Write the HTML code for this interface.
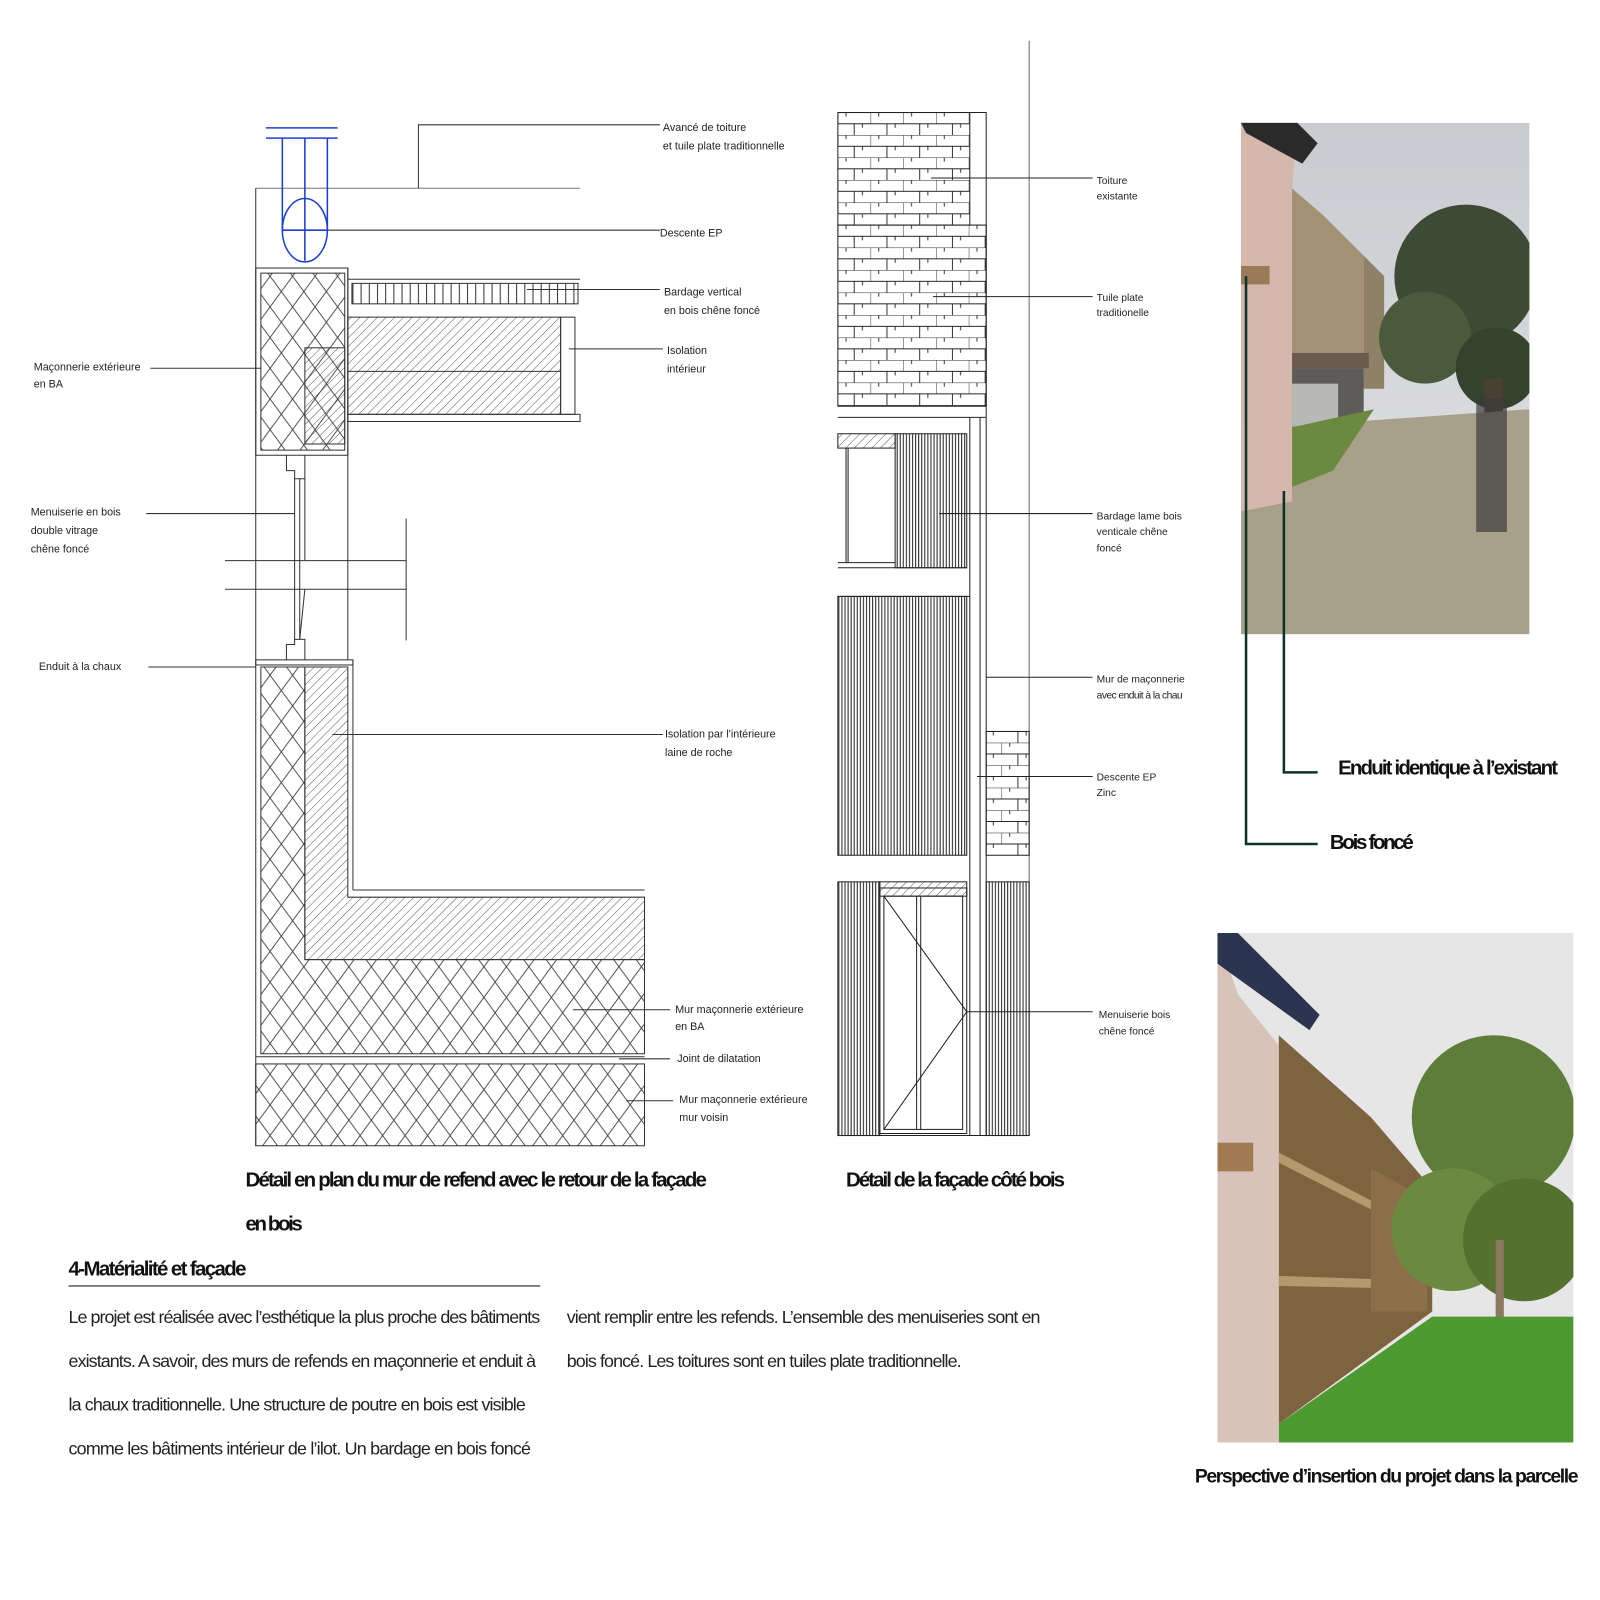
<!DOCTYPE html>
<html><head><meta charset="utf-8"><style>
html,body{margin:0;padding:0;background:#fff;}
svg{display:block}
.s{font-family:"Liberation Sans Narrow","Liberation Sans",sans-serif;font-size:10.5px;fill:#222}
.b{font-family:"Liberation Sans Narrow","Liberation Sans",sans-serif;font-weight:bold;fill:#111}
.p{font-family:"Liberation Sans Narrow","Liberation Sans",sans-serif;font-size:17.5px;fill:#222}
</style></head><body>
<svg width="1600" height="1600" viewBox="0 0 1564 1564" xmlns="http://www.w3.org/2000/svg">
<defs>
<pattern id="cross" width="22" height="30" patternUnits="userSpaceOnUse"><path d="M0 0L22 30M22 0L0 30" stroke="#333" stroke-width="0.8"/></pattern>
<pattern id="diag" width="6" height="6" patternUnits="userSpaceOnUse" patternTransform="rotate(45)"><line x1="0" y1="0" x2="0" y2="6" stroke="#333" stroke-width="0.8"/></pattern>
<pattern id="vert" width="3" height="10" patternUnits="userSpaceOnUse"><line x1="1" y1="0" x2="1" y2="10" stroke="#222" stroke-width="1"/></pattern>
<pattern id="vert2" width="8" height="10" patternUnits="userSpaceOnUse"><line x1="1" y1="0" x2="1" y2="10" stroke="#333" stroke-width="1"/></pattern>
<pattern id="tile" x="819" y="110" width="32" height="22" patternUnits="userSpaceOnUse"><path d="M0 0H32M0 11H32M0 0V11M16 11V22M8 0V4M24 11V15" stroke="#222" stroke-width="0.9" fill="none"/></pattern>
<linearGradient id="sky1" x1="0" y1="0" x2="0" y2="1"><stop offset="0" stop-color="#c9cbd0"/><stop offset="1" stop-color="#e4e4e6"/></linearGradient>
</defs>
<g stroke="#333" stroke-width="1" fill="none">
<line x1="250" y1="184" x2="567" y2="184" stroke="#777"/>
<polyline points="409,184 409,122 645,122"/>
<line x1="320" y1="225" x2="645" y2="225"/>
<line x1="250" y1="184" x2="250" y2="1120"/>
<line x1="340" y1="262" x2="340" y2="645"/>
<rect x="250" y="262" width="90" height="183"/>
<rect x="255" y="267" width="82" height="173" fill="url(#cross)"/>
<rect x="298" y="340" width="39" height="94" fill="url(#diag)"/>
<rect x="340" y="310" width="208" height="95" fill="url(#diag)"/>
<line x1="340" y1="363" x2="548" y2="363"/>
<rect x="548" y="310" width="14" height="95"/>
<rect x="340" y="405" width="227" height="7"/>
<rect x="344" y="277" width="221" height="20" fill="url(#vert2)"/>
<line x1="340" y1="273" x2="567" y2="273"/>
<polyline points="280,445 280,460 288,460 288,468 298,468 298,458 298,445"/>
<line x1="288" y1="468" x2="288" y2="625"/><line x1="293" y1="468" x2="293" y2="625"/><line x1="298" y1="468" x2="298" y2="548"/>
<polyline points="280,645 280,630 288,630 288,625 298,625 298,645"/>
<line x1="298" y1="576" x2="293" y2="625"/>
<line x1="220" y1="548" x2="397" y2="548"/><line x1="220" y1="576" x2="397" y2="576"/>
<line x1="397" y1="507" x2="397" y2="626"/>
<rect x="250" y="645" width="95" height="5"/>
<line x1="345" y1="645" x2="345" y2="870"/><line x1="345" y1="870" x2="630" y2="870"/>
<path d="M255 652H298V938H630V1030H255Z" fill="url(#cross)"/>
<path d="M298 652H340V877H630V938H298Z" fill="url(#diag)"/>
<line x1="250" y1="1033" x2="630" y2="1033"/>
<rect x="250" y="1040" width="380" height="80" fill="url(#cross)"/>
<line x1="147" y1="360" x2="255" y2="360"/>
<line x1="143" y1="502" x2="288" y2="502"/>
<line x1="145" y1="652" x2="250" y2="652"/>
<line x1="515" y1="283" x2="645" y2="283"/>
<line x1="556" y1="341" x2="648" y2="341"/>
<line x1="325" y1="718" x2="648" y2="718"/>
<line x1="560" y1="987" x2="655" y2="987"/>
<line x1="605" y1="1035" x2="655" y2="1035"/>
<line x1="612" y1="1076" x2="658" y2="1076"/>
</g>
<g stroke="#1a3fd0" stroke-width="1.5" fill="none">
<line x1="260" y1="125" x2="330" y2="125"/><line x1="260" y1="135" x2="330" y2="135"/>
<line x1="276" y1="135" x2="276" y2="225"/><line x1="298" y1="135" x2="298" y2="255"/><line x1="320" y1="135" x2="320" y2="225"/>
<ellipse cx="298" cy="225" rx="22" ry="31"/><line x1="276" y1="225" x2="320" y2="225"/>
</g>
<g stroke="#222" stroke-width="1" fill="none">
<line x1="1006" y1="40" x2="1006" y2="1110" stroke="#666"/>
<rect x="819" y="110" width="129" height="110" fill="url(#tile)"/>
<polyline points="819,110 964,110 964,408"/>
<rect x="819" y="220" width="145" height="177" fill="url(#tile)"/>
<line x1="819" y1="397" x2="964" y2="397"/>
<line x1="819" y1="408" x2="964" y2="408"/>
<line x1="948" y1="408" x2="948" y2="1110"/><line x1="958" y1="408" x2="958" y2="1110"/><line x1="964" y1="408" x2="964" y2="1110"/>
<rect x="819" y="424" width="56" height="14" fill="url(#diag)"/>
<rect x="875" y="424" width="70" height="131" fill="url(#vert)"/>
<line x1="827" y1="438" x2="827" y2="550"/><line x1="829" y1="438" x2="829" y2="550"/>
<line x1="819" y1="550" x2="875" y2="550"/><line x1="819" y1="555" x2="945" y2="555"/>
<line x1="819" y1="583" x2="948" y2="583"/>
<rect x="819" y="583" width="126" height="253" fill="url(#vert)"/>
<rect x="964" y="715" width="42" height="121" fill="url(#tile)"/>
<rect x="819" y="862" width="41" height="248" fill="url(#vert)"/>
<rect x="860" y="862" width="85" height="14" fill="url(#diag)"/>
<rect x="860" y="868" width="85" height="240"/>
<rect x="864" y="876" width="77" height="228"/>
<line x1="896" y1="876" x2="896" y2="1104"/><line x1="900" y1="876" x2="900" y2="1104"/>
<polyline points="864,876 945,989 864,1104"/>
<rect x="964" y="862" width="42" height="248" fill="url(#vert)"/>
<line x1="819" y1="1110" x2="1006" y2="1110"/>
<line x1="910" y1="174" x2="1068" y2="174"/>
<line x1="912" y1="290" x2="1068" y2="290"/>
<line x1="918" y1="502" x2="1068" y2="502"/>
<line x1="964" y1="662" x2="1068" y2="662"/>
<line x1="955" y1="759" x2="1068" y2="759"/>
<line x1="945" y1="989" x2="1068" y2="989"/>
</g>
<g class="s">
<text x="648" y="128">Avancé de toiture</text><text x="648" y="146">et tuile plate traditionnelle</text>
<text x="645" y="231">Descente EP</text>
<text x="649" y="289">Bardage vertical</text><text x="649" y="307">en bois chêne foncé</text>
<text x="652" y="346">Isolation</text><text x="652" y="364">intérieur</text>
<text x="33" y="362">Maçonnerie extérieure</text><text x="33" y="379">en BA</text>
<text x="30" y="504">Menuiserie en bois</text><text x="30" y="522">double vitrage</text><text x="30" y="540">chêne foncé</text>
<text x="38" y="655">Enduit à la chaux</text>
<text x="650" y="721">Isolation par l'intérieure</text><text x="650" y="739">laine de roche</text>
<text x="660" y="990">Mur maçonnerie extérieure</text><text x="660" y="1007">en BA</text>
<text x="662" y="1038">Joint de dilatation</text>
<text x="664" y="1078">Mur maçonnerie extérieure</text><text x="664" y="1096">mur voisin</text>
<text x="1072" y="180" font-size="10">Toiture</text><text x="1072" y="195" font-size="10">existante</text>
<text x="1072" y="294" font-size="10">Tuile plate</text><text x="1072" y="309" font-size="10">traditionelle</text>
<text x="1072" y="508" font-size="10">Bardage lame bois</text><text x="1072" y="523" font-size="10">venticale chêne</text><text x="1072" y="539" font-size="10">foncé</text>
<text x="1072" y="667" font-size="10">Mur de maçonnerie</text><text x="1072" y="683" font-size="10" textLength="84">avec enduit à la chau</text>
<text x="1072" y="763" font-size="10">Descente EP</text><text x="1072" y="778" font-size="10">Zinc</text>
<text x="1074" y="995" font-size="10">Menuiserie bois</text><text x="1074" y="1011" font-size="10">chêne foncé</text>
</g>
<g class="b" font-size="20">
<text x="240" y="1160" textLength="451">Détail en plan du mur de refend avec le retour de la façade</text>
<text x="240" y="1203" textLength="56">en bois</text>
<text x="827" y="1160" textLength="214">Détail de la façade côté bois</text>
<text x="67" y="1247" textLength="174">4-Matérialité et façade</text>
<text x="1308" y="757" textLength="215">Enduit identique à l’existant</text>
<text x="1300" y="830" textLength="82">Bois foncé</text>
<text x="1168" y="1449" textLength="375" font-size="19">Perspective d’insertion du projet dans la parcelle</text>
</g>
<line x1="67" y1="1257" x2="528" y2="1257" stroke="#666" stroke-width="1.5"/>
<g class="p">
<text x="67" y="1293" textLength="461">Le projet est réalisée avec l’esthétique la plus proche des bâtiments</text>
<text x="67" y="1336" textLength="457">existants. A savoir, des murs de refends en maçonnerie et enduit à</text>
<text x="67" y="1379" textLength="447">la chaux traditionnelle. Une structure de poutre en bois est visible</text>
<text x="67" y="1422" textLength="452">comme les bâtiments intérieur de l’ilot.  Un bardage en bois foncé</text>
<text x="554" y="1293" textLength="463">vient remplir entre les refends. L’ensemble des menuiseries sont en</text>
<text x="554" y="1336" textLength="386">bois foncé. Les toitures sont en tuiles plate traditionnelle.</text>
</g>
<svg x="1213" y="120" width="282" height="500" viewBox="0 0 282 500">
<rect width="282" height="500" fill="url(#sky1)"/>
<polygon points="45,60 80,90 120,130 120,260 45,260" fill="#a39173"/>
<polygon points="120,130 140,150 140,260 120,260" fill="#8e8168"/>
<circle cx="220" cy="150" r="70" fill="#3d4a35"/><circle cx="180" cy="210" r="45" fill="#4a5a3c"/><circle cx="250" cy="240" r="40" fill="#35422d"/>
<rect x="238" y="250" width="18" height="150" fill="#4a3f33"/>
<rect x="45" y="225" width="80" height="15" fill="#6a5a50"/>
<rect x="45" y="240" width="75" height="70" fill="#5e5c58"/>
<rect x="50" y="255" width="45" height="45" fill="#b8b8b6"/>
<polygon points="0,300 282,280 282,500 0,500" fill="#a8a08a"/>
<polygon points="40,300 130,280 90,340 40,360" fill="#6a8a40"/>
<rect x="230" y="270" width="30" height="130" fill="#3a3a3a" opacity="0.7"/>
<polygon points="0,0 55,0 50,65 50,370 0,380" fill="#d4b8ab"/>
<rect x="0" y="140" width="28" height="18" fill="#9a7a58"/>
<polygon points="0,0 55,0 75,20 60,40 5,10" fill="#2a2a2a"/>
</svg>
<svg x="1190" y="912" width="348" height="498" viewBox="0 0 348 498">
<rect width="348" height="498" fill="#e6e6e6"/>
<polygon points="60,100 150,180 210,250 210,370 60,480" fill="#7d6340"/>
<polygon points="55,212 205,290 205,298 55,222" fill="#b39a6c"/>
<polygon points="55,335 205,340 205,348 55,345" fill="#b39a6c"/>
<polygon points="150,230 205,260 205,370 150,370" fill="#8a6f48"/>
<circle cx="270" cy="180" r="80" fill="#5e7d3a"/><circle cx="230" cy="290" r="60" fill="#6b8a40"/><circle cx="300" cy="300" r="60" fill="#55702f"/>
<rect x="272" y="300" width="8" height="170" fill="#8a7a60"/>
<polygon points="60,480 210,375 348,375 348,498 60,498" fill="#4e9a30"/>
<polygon points="0,0 0,498 60,498 60,110 20,60" fill="#d8c3ba"/>
<rect x="0" y="205" width="35" height="28" fill="#a07a50"/>
<polygon points="0,0 20,0 100,80 90,95 0,30" fill="#2c3550"/>
</svg>
<g stroke="#0f3328" stroke-width="2.5" fill="none">
<polyline points="1218,270 1218,825 1288,825"/>
<polyline points="1255,480 1255,755 1288,755"/>
</g>
</svg>
</body></html>
